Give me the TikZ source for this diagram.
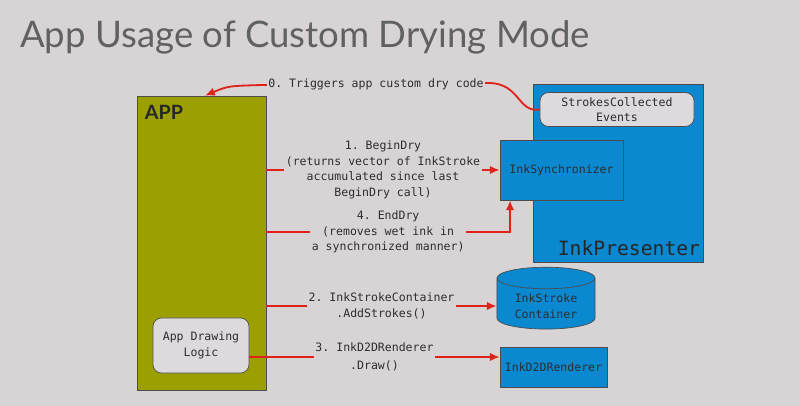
\documentclass[tikz,border=0pt]{standalone}
\usepackage{fontspec}
\setmainfont{Lato}
\setmonofont{DejaVu Sans Mono}
\usetikzlibrary{arrows.meta,shapes.geometric}

\definecolor{slidebg}{RGB}{216,212,214}
\definecolor{appolive}{RGB}{155,160,0}
\definecolor{inkblue}{RGB}{10,136,208}
\definecolor{flowred}{RGB}{224,35,26}
\definecolor{panelgray}{RGB}{220,218,220}
\definecolor{textgray}{RGB}{45,45,45}

\tikzset{
  box/.style={draw=gray!60!black, line width=0.5pt, align=center, text=textgray,
    font=\ttfamily\fontsize{8.2}{11}\selectfont},
  bluebox/.style={box, fill=inkblue},
  panel/.style={box, fill=panelgray, rounded corners=6pt},
  flow/.style={draw=flowred, line width=1.3pt, -{Latex[length=7pt,width=6pt]}},
  lbl/.style={fill=slidebg, align=center, inner xsep=1pt, inner ysep=0pt, text=textgray,
    font=\ttfamily\fontsize{8.2}{11}\selectfont},
}

\begin{document}
\begin{tikzpicture}[x=0.025cm, y=-0.025cm]
  \fill[slidebg] (0,0) rectangle (800,406);
  \useasboundingbox (0,0) rectangle (800,406);
  \node[anchor=base west, inner sep=0pt, text=black!62, font=\fontsize{26}{30}\selectfont] (title) at (20,48) {App Usage of Custom Drying Mode};

  % app side
  \node[box, fill=appolive, minimum width=3.225cm, minimum height=7.35cm] (app) at (201.5,243) {};
  \node[anchor=north west, inner sep=0pt, text=black!85, font=\bfseries\fontsize{14}{16}\selectfont] (applbl) at ([xshift=0.2cm,yshift=-0.225cm]app.north west) {APP};
  \node[panel, minimum width=2.4cm, minimum height=1.375cm] (logic) at (201,345.5) {App Drawing\\Logic};

  % ink side
  \node[bluebox, minimum width=4.25cm, minimum height=4.45cm] (pres) at (618,173) {};
  \node[anchor=base east, inner sep=0pt, text=black!85, font=\ttfamily\fontsize{14}{16}\selectfont] (preslbl) at ([xshift=-0.075cm,yshift=0.175cm]pres.south east) {InkPresenter};
  \node[panel, minimum width=3.85cm, minimum height=0.825cm] (events) at (617,109.5) {StrokesCollected\\Events};
  \node[bluebox, minimum width=3.075cm, minimum height=1.5cm] (sync) at (561.5,170) {InkSynchronizer};
  \node[bluebox, shape=cylinder, shape border rotate=90, aspect=0.3, minimum width=2.45cm, minimum height=1.4cm] (store) at (546,306) {InkStroke\\Container};
  \node[bluebox, minimum width=2.675cm, minimum height=1cm] (render) at (553.5,367) {InkD2DRenderer};

  % calls
  \coordinate (c0a) at (490,83);
  \coordinate (c0b) at (262,85);
  \coordinate (c0c) at (205,96);
  \draw[flow] (events.west) .. controls (518,113) and (520,84) .. (c0a)
    -- node[lbl]{0. Triggers app custom dry code} (c0b)
    .. controls (228,86) .. (app.north -| c0c);
  \draw[flow] (app.east |- sync.west) -- node[lbl]{1. BeginDry\\(returns vector of InkStroke\\accumulated since last\\BeginDry call)} (sync.west);
  \coordinate (c4) at (510,232);
  \draw[flow] (app.east |- c4) -- node[lbl]{4. EndDry\\(removes wet ink in\\a synchronized manner)} (c4) -- (c4 |- sync.south);
  \draw[flow] (app.east |- store.west) -- node[lbl]{2. InkStrokeContainer\\.AddStrokes()} (store.west);
  \coordinate (c3) at (300,357);
  \draw[flow] (logic.east |- c3) -- node[lbl]{3. InkD2DRenderer\\[2pt].Draw()} (render.west |- c3);
\end{tikzpicture}
\end{document}
